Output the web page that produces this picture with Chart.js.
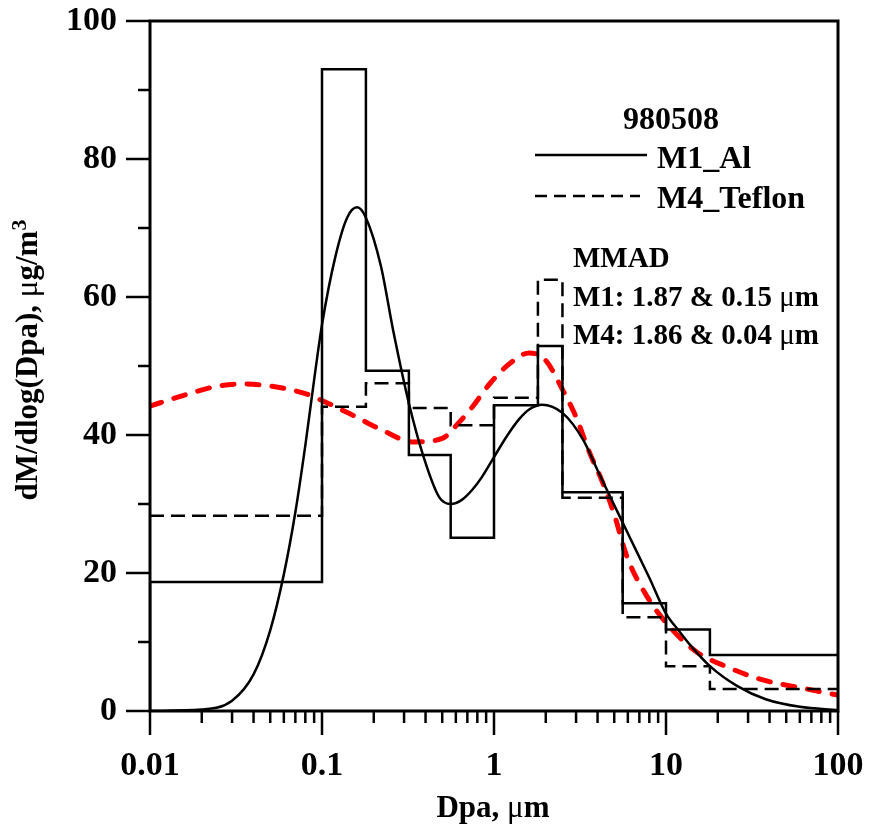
<!DOCTYPE html>
<html>
<head>
<meta charset="utf-8">
<script src="https://cdn.jsdelivr.net/npm/chart.js"></script>
<style>
  body { margin: 0; background: #fff; }
  canvas { display: block; }
</style>
</head>
<body>
<canvas id="chart" width="871" height="828"></canvas>
<script>
// Bordes de las etapas del impactador (um) e histogramas
const binEdges = [0.01, 0.1, 0.18, 0.32, 0.56, 1.0, 1.8, 2.5, 5.6, 10, 18, 100];
const m1Hist = [18.7, 93.0, 49.3, 37.1, 25.1, 44.3, 52.9, 31.7, 15.6, 11.8, 8.1];
const m4Hist = [28.3, 44.1, 47.5, 43.9, 41.4, 45.4, 62.5, 30.9, 13.6, 6.5, 3.2];

// Curvas ajustadas
const m1CurveX = [0.01, 0.02, 0.03, 0.04, 0.05, 0.06, 0.07, 0.08, 0.09, 0.1, 0.12, 0.14, 0.16, 0.18, 0.22, 0.26, 0.32, 0.39, 0.48, 0.56, 0.65, 0.75, 0.85, 1.0, 1.2, 1.4, 1.6, 1.9, 2.5, 3.3, 4.0, 4.5, 5.6, 7, 8, 10, 12, 14, 18, 26, 38, 60, 100];
const m1CurveY = [0, 0.2, 1.5, 5.3, 11.7, 19.8, 28.8, 38.5, 48, 56, 66, 71.5, 73, 71.5, 64.5, 55, 44.6, 36.8, 31, 30, 30.6, 32.1, 33.9, 36.8, 40, 42.3, 43.7, 44.4, 43.2, 39.3, 34.9, 32.2, 27.3, 22.3, 19.3, 14.1, 11.5, 9.4, 6.5, 3.6, 1.7, 0.6, 0.15];
const m4CurveX = [0.01, 0.015, 0.025, 0.035, 0.05, 0.08, 0.1, 0.15, 0.22, 0.34, 0.5, 0.63, 0.75, 0.95, 1.24, 1.6, 2.0, 2.5, 3.0, 3.6, 4.3, 5.0, 5.9, 7.8, 10.5, 15, 22.6, 36.6, 62.6, 100];
const m4CurveY = [44.2, 45.6, 47.1, 47.4, 47.1, 46, 45, 42.9, 40.8, 39.0, 39.5, 41.9, 44.1, 47.5, 50.4, 51.9, 50.8, 46.6, 42.6, 37.4, 33, 28.5, 22.5, 16.5, 12.2, 8.6, 6.4, 4.5, 3.3, 2.3];

// Marcas de los ejes
const xMajor = [0.01, 0.1, 1, 10, 100];
const yMajor = [0, 20, 40, 60, 80, 100];
const yMinor = [10, 30, 50, 70, 90];

const FONT = '"Liberation Serif", "Times New Roman", serif';

function stepPoints(edges, vals, fromZero) {
    const pts = fromZero ? [{ x: edges[0], y: 0 }] : [];
    vals.forEach((v, i) => {
        pts.push({ x: edges[i], y: v });
        pts.push({ x: edges[i + 1], y: v });
    });
    return pts;
}

function zip(xs, ys) {
    return xs.map((x, i) => ({ x: x, y: ys[i] }));
}

// Dibuja texto con trozos de distinto peso
function drawPieces(ctx, pieces, x, y, centered) {
    let total = 0;
    pieces.forEach(p => { ctx.font = p.font; total += ctx.measureText(p.text).width; });
    let cx = centered ? x - total / 2 : x;
    pieces.forEach(p => {
        ctx.font = p.font;
        ctx.fillText(p.text, cx, y + (p.dy || 0));
        cx += ctx.measureText(p.text).width;
    });
}

const decorPlugin = {
    id: 'decor',
    afterDraw(chart) {
        const ctx = chart.ctx;
        const area = chart.chartArea;
        const xs = chart.scales.x;
        const ys = chart.scales.y;
        ctx.save();
        ctx.strokeStyle = '#000';
        ctx.fillStyle = '#000';

        // marco
        ctx.lineWidth = 3;
        ctx.strokeRect(area.left, area.top, area.right - area.left, area.bottom - area.top);

        // marcas de los ejes
        ctx.lineWidth = 2.5;
        const xMinor = [];
        for (let i = 0; i < xMajor.length - 1; i++) {
            for (let k = 2; k <= 9; k++) xMinor.push(k * xMajor[i]);
        }
        const seg = (x1, y1, x2, y2) => {
            ctx.beginPath(); ctx.moveTo(x1, y1); ctx.lineTo(x2, y2); ctx.stroke();
        };
        xMajor.forEach(v => { const p = xs.getPixelForValue(v); seg(p, area.bottom, p, area.bottom + 24); });
        xMinor.forEach(v => { const p = xs.getPixelForValue(v); seg(p, area.bottom, p, area.bottom + 12); });
        yMajor.forEach(v => { const p = ys.getPixelForValue(v); seg(area.left, p, area.left - 24, p); });
        yMinor.forEach(v => { const p = ys.getPixelForValue(v); seg(area.left, p, area.left - 12, p); });

        // leyenda
        ctx.textBaseline = 'alphabetic';
        ctx.textAlign = 'left';
        const big = 'bold 32px ' + FONT;
        const bold = 'bold 29px ' + FONT;
        const norm = '29px ' + FONT;
        drawPieces(ctx, [{ text: '980508', font: big }], 671, 129, true);
        ctx.lineWidth = 2.5;
        seg(535, 155, 647, 155);
        ctx.setLineDash([12, 7]);
        seg(535, 196, 640, 196);
        ctx.setLineDash([]);
        drawPieces(ctx, [{ text: 'M1_Al', font: big }], 657, 168, false);
        drawPieces(ctx, [{ text: 'M4_Teflon', font: big }], 657, 208, false);
        drawPieces(ctx, [{ text: 'MMAD', font: bold }], 573, 267, false);
        drawPieces(ctx, [{ text: 'M1: 1.87 & 0.15 ', font: bold }, { text: 'μ', font: norm }, { text: 'm', font: bold }], 573, 306, false);
        drawPieces(ctx, [{ text: 'M4: 1.86 & 0.04 ', font: bold }, { text: 'μ', font: norm }, { text: 'm', font: bold }], 573, 344, false);

        // titulo eje x
        const tb = 'bold 31px ' + FONT;
        const tn = '31px ' + FONT;
        drawPieces(ctx, [{ text: 'Dpa, ', font: tb }, { text: 'μ', font: tn }, { text: 'm', font: tb }], 493, 817, true);

        // titulo eje y
        ctx.translate(37, 360);
        ctx.rotate(-Math.PI / 2);
        drawPieces(ctx, [
            { text: 'dM/dlog(Dpa), ', font: tb },
            { text: 'μ', font: tn },
            { text: 'g/m', font: tb },
            { text: '3', font: 'bold 22px ' + FONT, dy: -11 }
        ], 0, 0, true);
        ctx.restore();
    }
};

new Chart(document.getElementById('chart'), {
    type: 'line',
    data: {
        datasets: [
            {
                label: 'M1_Al stages',
                data: stepPoints(binEdges, m1Hist, true),
                borderColor: '#000',
                borderWidth: 2.5,
                pointRadius: 0,
                tension: 0
            },
            {
                label: 'M4_Teflon stages',
                data: stepPoints(binEdges, m4Hist, false),
                borderColor: '#000',
                borderWidth: 2.5,
                borderDash: [14, 7],
                pointRadius: 0,
                tension: 0
            },
            {
                label: 'M1_Al',
                data: zip(m1CurveX, m1CurveY),
                borderColor: '#000',
                borderWidth: 2.5,
                pointRadius: 0,
                cubicInterpolationMode: 'monotone'
            },
            {
                label: 'M4_Teflon',
                data: zip(m4CurveX, m4CurveY),
                borderColor: '#ff0000',
                borderWidth: 5,
                borderDash: [12, 13],
                borderCapStyle: 'round',
                pointRadius: 0,
                cubicInterpolationMode: 'monotone'
            }
        ]
    },
    options: {
        responsive: false,
        animation: false,
        events: [],
        layout: { padding: { top: 21, right: 33, bottom: 0, left: 0 } },
        plugins: {
            legend: { display: false },
            tooltip: { enabled: false }
        },
        scales: {
            x: {
                type: 'logarithmic',
                min: 0.01,
                max: 100,
                afterFit: s => { s.height = 117; s.paddingLeft = 0; s.paddingRight = 0; },
                afterBuildTicks: s => { s.ticks = xMajor.map(v => ({ value: v })); },
                grid: { display: false, drawTicks: false },
                border: { display: false },
                ticks: {
                    autoSkip: false,
                    maxRotation: 0,
                    padding: 35,
                    color: '#000',
                    font: { family: FONT, size: 34, weight: 'bold' },
                    callback: v => String(v)
                }
            },
            y: {
                min: 0,
                max: 100,
                afterFit: s => { s.width = 150; s.paddingTop = 0; s.paddingBottom = 0; },
                afterBuildTicks: s => { s.ticks = yMajor.map(v => ({ value: v })); },
                grid: { display: false, drawTicks: false },
                border: { display: false },
                ticks: {
                    padding: 33,
                    color: '#000',
                    font: { family: FONT, size: 34, weight: 'bold' }
                }
            }
        }
    },
    plugins: [decorPlugin]
});
</script>
</body>
</html>
